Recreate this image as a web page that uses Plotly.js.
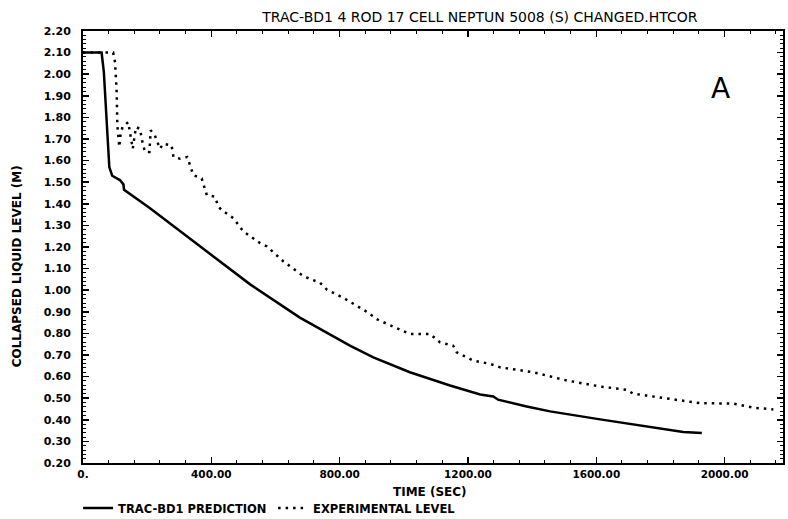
<!DOCTYPE html>
<html>
<head>
<meta charset="utf-8">
<script src="https://cdn.plot.ly/plotly-3.0.1.min.js"></script>
<style>html,body{margin:0;padding:0;background:#fff;}#chart{width:788px;height:519px;}</style>
</head>
<body>
<div id="chart"></div>
<script>
// Prediction (TRAC-BD1), time in s, collapsed level in m
const predTime = [0, 58, 65, 72, 79, 82, 91, 115, 126, 128, 209, 344, 365, 521, 676, 832, 905, 1019, 1144, 1238, 1279, 1294, 1383, 1456, 1612, 1715, 1871, 1929];
const predLevel = [2.10, 2.10, 2.01, 1.84, 1.69, 1.57, 1.53, 1.51, 1.49, 1.465, 1.379, 1.226, 1.203, 1.027, 0.873, 0.743, 0.689, 0.620, 0.559, 0.517, 0.508, 0.493, 0.462, 0.439, 0.402, 0.379, 0.344, 0.339];

// Experimental level
const expTime = [0, 94, 100, 105, 107, 113, 117, 123, 141, 146, 155, 165, 178, 183, 193, 207, 211, 224, 240, 250, 276, 282, 302, 325, 344, 370, 386, 411, 422, 432, 469, 500, 552, 573, 624, 687, 739, 760, 811, 889, 915, 1019, 1082, 1113, 1154, 1165, 1217, 1269, 1300, 1404, 1508, 1612, 1695, 1715, 1819, 1923, 2027, 2090, 2152];
const expLevel = [2.10, 2.10, 2.054, 1.916, 1.764, 1.663, 1.718, 1.755, 1.778, 1.732, 1.655, 1.755, 1.747, 1.70, 1.64, 1.64, 1.74, 1.717, 1.655, 1.678, 1.671, 1.617, 1.609, 1.617, 1.533, 1.517, 1.44, 1.433, 1.387, 1.372, 1.333, 1.272, 1.218, 1.203, 1.134, 1.065, 1.034, 1.003, 0.965, 0.896, 0.866, 0.797, 0.797, 0.758, 0.743, 0.712, 0.674, 0.659, 0.643, 0.620, 0.582, 0.554, 0.539, 0.521, 0.498, 0.477, 0.475, 0.456, 0.448];

const xTickVals = [0, 400, 800, 1200, 1600, 2000];
const xTickText = ['0.', '400.00', '800.00', '1200.00', '1600.00', '2000.00'];

const seriesNames = ['TRAC-BD1 PREDICTION', 'EXPERIMENTAL LEVEL'];
const titleText = 'TRAC-BD1 4 ROD 17 CELL NEPTUN 5008 (S) CHANGED.HTCOR';
const xTitle = 'TIME (SEC)';
const yTitle = 'COLLAPSED LIQUID LEVEL (M)';

const FONT = 'DejaVu Sans, Liberation Sans, sans-serif';

const traces = [
  {x: predTime, y: predLevel, name: seriesNames[0], type: 'scatter', mode: 'lines',
   line: {color: '#000', width: 2.5}},
  {x: expTime, y: expLevel, name: seriesNames[1], type: 'scatter', mode: 'lines',
   line: {color: '#000', width: 2.5, dash: '2.5px,5px'}}
];

const axisCommon = {
  showgrid: false, zeroline: false, showline: true, linecolor: '#000', linewidth: 2,
  mirror: 'ticks', ticks: 'inside', ticklen: 6, tickwidth: 1.5, tickcolor: '#000'
};

const layout = {
  width: 788, height: 519,
  margin: {l: 83, r: 5, t: 31, b: 56},
  paper_bgcolor: '#fff', plot_bgcolor: '#fff',
  title: {text: titleText, font: {family: FONT, size: 14, color: '#000'},
          xref: 'paper', x: 0.567, xanchor: 'center', yref: 'container', y: 0.967, yanchor: 'middle'},
  xaxis: Object.assign({}, axisCommon, {
    range: [0, 2182], tickvals: xTickVals, ticktext: xTickText,
    tickfont: {family: FONT, size: 10.5, color: '#000', weight: 'bold'},
    minor: {dtick: 80, tick0: 0, ticks: 'inside', ticklen: 3, tickcolor: '#000', tickwidth: 1}
  }),
  yaxis: Object.assign({}, axisCommon, {
    range: [0.2, 2.2], dtick: 0.1, tick0: 0.2, tickformat: '.2f', ticklabelstandoff: 8,
    tickfont: {family: FONT, size: 11, color: '#000', weight: 'bold'},
    minor: {dtick: 0.02, tick0: 0.2, ticks: 'inside', ticklen: 3, tickcolor: '#000', tickwidth: 1}
  }),
  showlegend: true,
  legend: {orientation: 'h', x: -0.007, xanchor: 'left', yref: 'container', y: 0.021, yanchor: 'middle',
           entrywidth: 150, entrywidthmode: 'pixels',
           font: {family: FONT, size: 11.5, color: '#000', weight: 'bold'},
           bgcolor: 'rgba(0,0,0,0)', tracegroupgap: 0},
  annotations: [
    {text: xTitle, xref: 'paper', yref: 'paper', x: 0.496, y: -0.067, showarrow: false,
     xanchor: 'center', yanchor: 'middle', font: {family: FONT, size: 12, color: '#000', weight: 'bold'}},
    {text: yTitle, xref: 'paper', yref: 'paper', x: -0.093, y: 0.455, showarrow: false, textangle: -90,
     xanchor: 'center', yanchor: 'middle', font: {family: FONT, size: 12, color: '#000', weight: 'bold'}},
    {text: 'A', xref: 'paper', yref: 'paper', x: 0.91, y: 0.866, showarrow: false,
     xanchor: 'center', yanchor: 'middle', font: {family: FONT, size: 28, color: '#000'}}
  ]
};

Plotly.newPlot('chart', traces, layout, {staticPlot: true, displayModeBar: false});
</script>
</body>
</html>
